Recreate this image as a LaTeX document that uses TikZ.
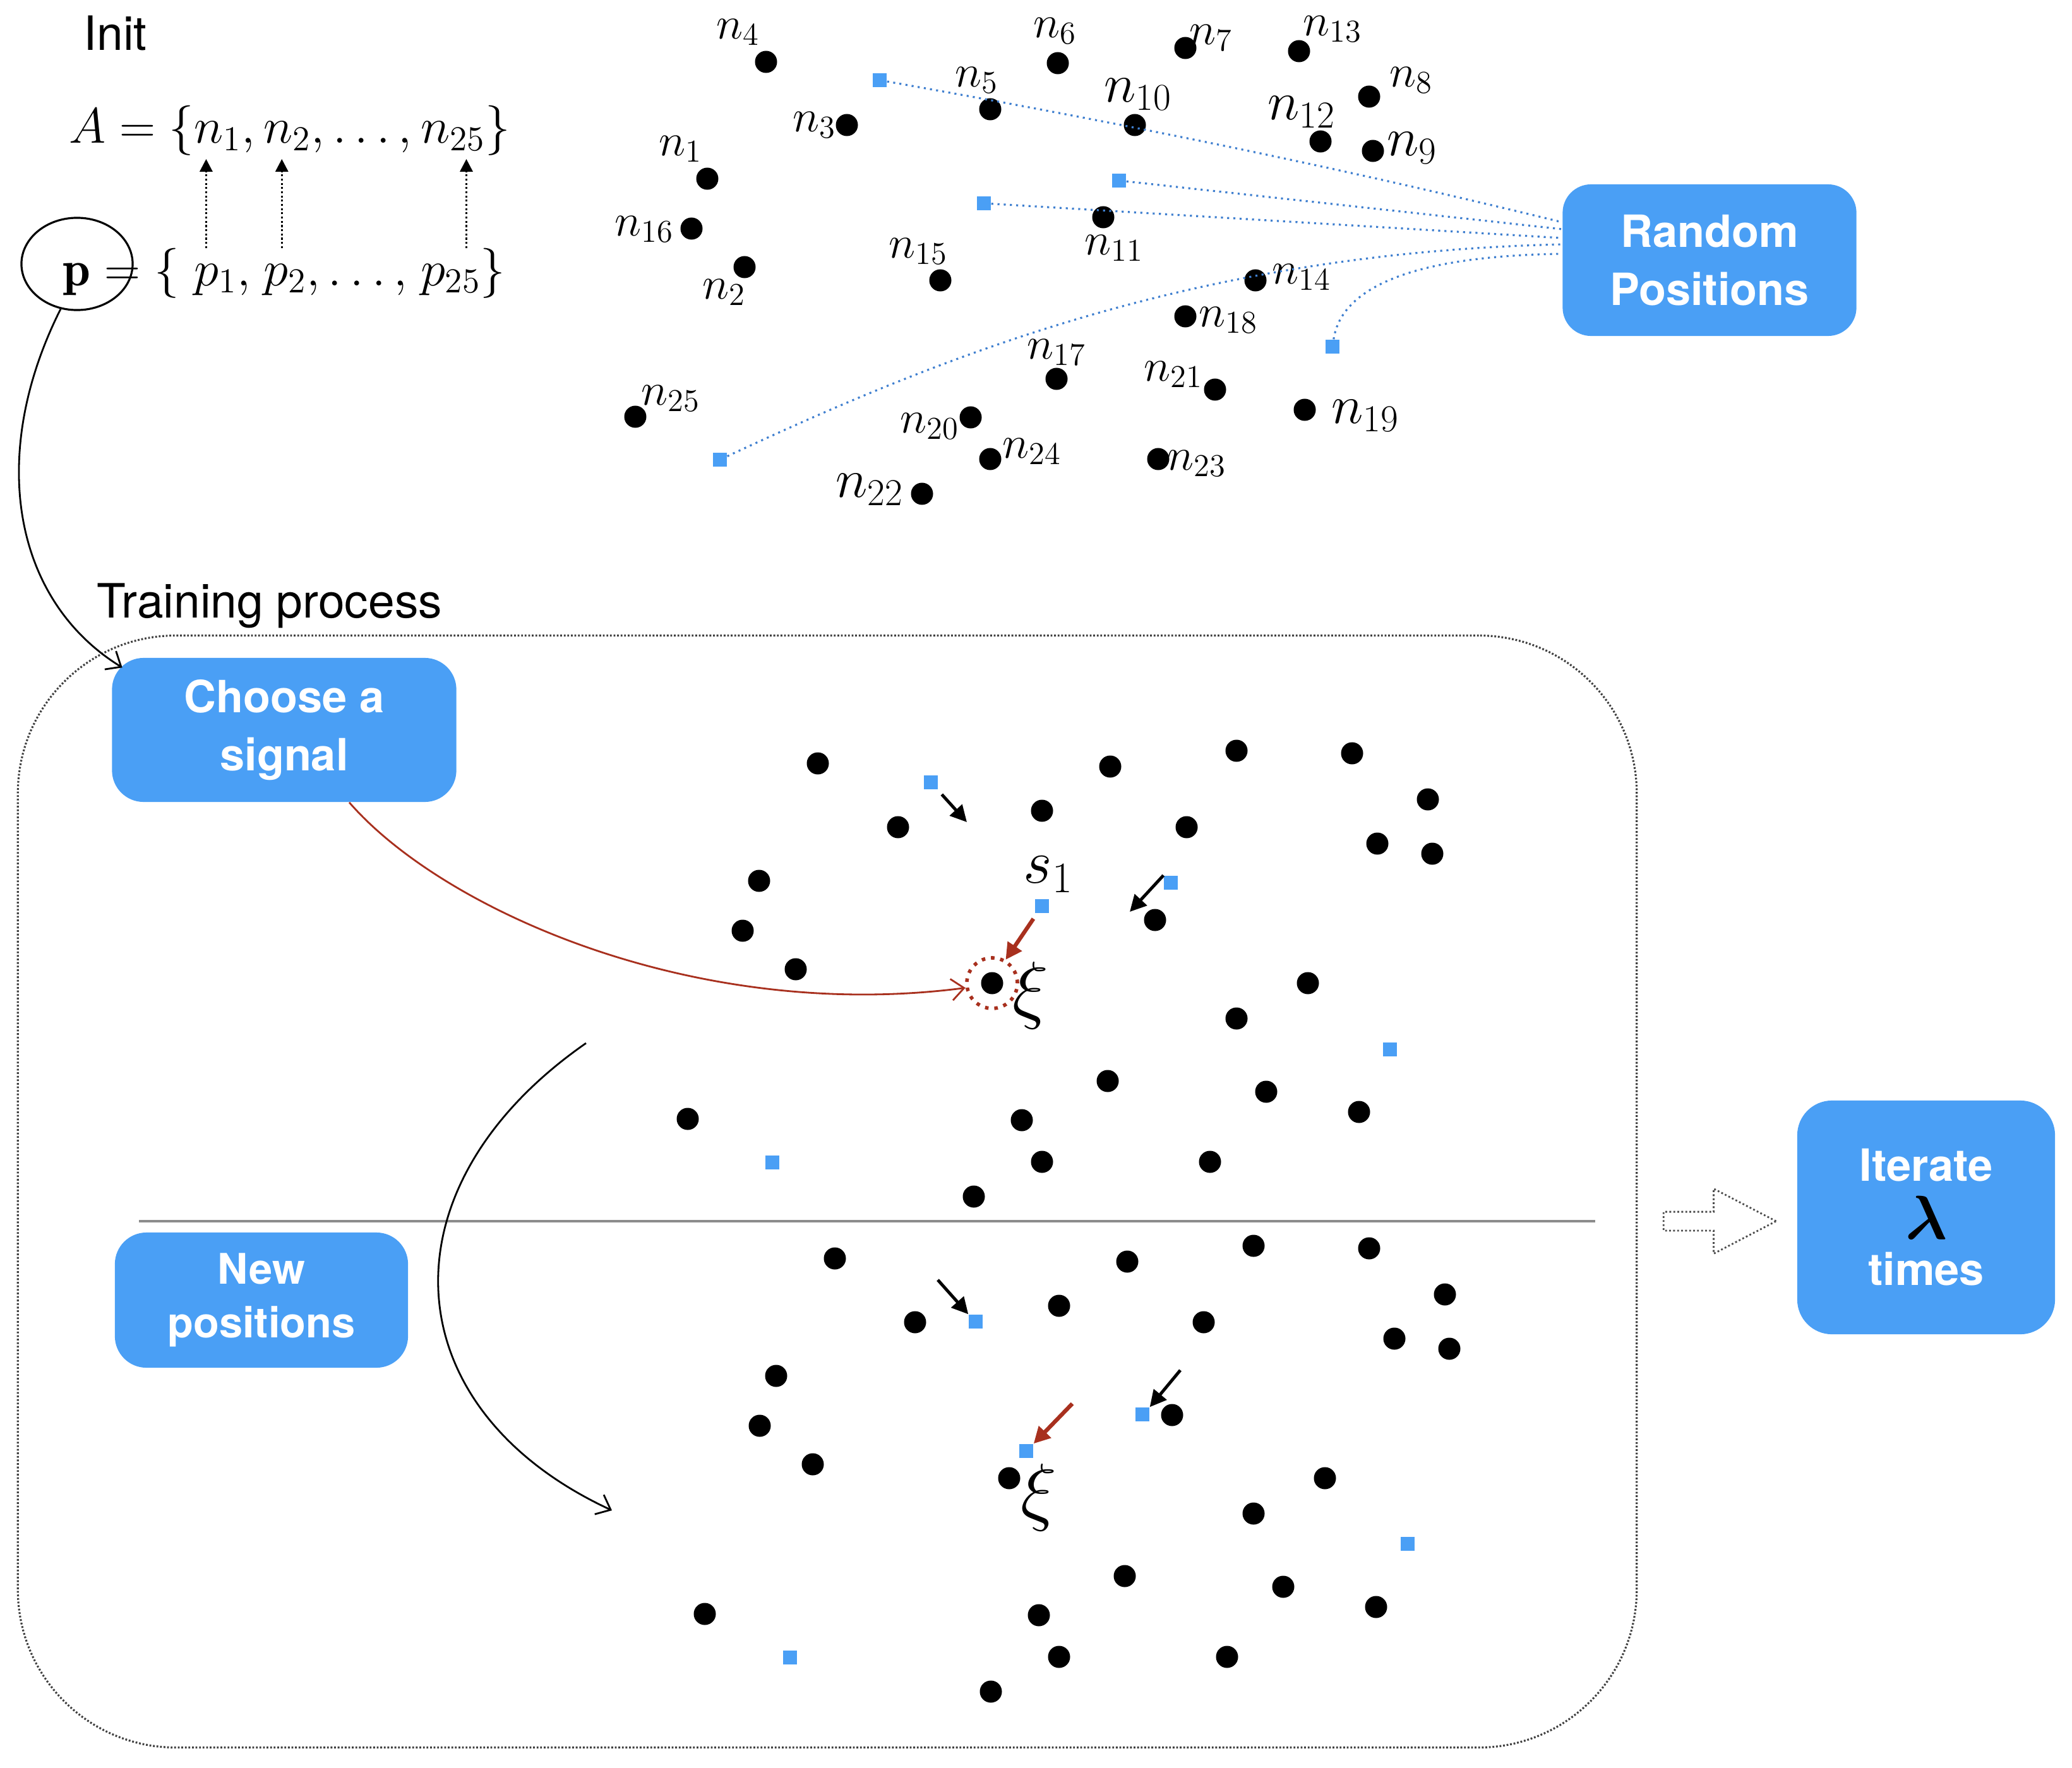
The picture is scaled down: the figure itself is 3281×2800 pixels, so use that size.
\RequirePackage{fix-cm}
\documentclass[tikz,border=0pt]{standalone}
\usepackage{fontspec}
\setsansfont{TeX Gyre Heros}
\usepackage{bm}
\usetikzlibrary{arrows.meta,positioning,shapes.geometric,shapes.arrows}
\definecolor{kohblue}{HTML}{4A9FF5}
\definecolor{linkblue}{HTML}{3F7FCF}
\definecolor{winred}{HTML}{A8301E}
\definecolor{rulegray}{HTML}{8C8C8C}

\begin{document}
\begin{tikzpicture}[x=0.01cm,y=-0.01cm,
  sigbox/.style={fill=kohblue,text=white,rounded corners=5mm,align=center,inner sep=0pt,
    font=\sffamily\bfseries\fontsize{20}{26}\selectfont},
  headtxt/.style={anchor=base west,inner sep=0pt,font=\sffamily\fontsize{21.3}{25}\selectfont},
  mathpc/.style={anchor=base west,inner sep=0pt,outer sep=0pt,font=\fontsize{22.5}{27}\selectfont},
  neuron/.style={circle,fill=black,inner sep=0pt,minimum size=3.5mm},
  proto/.style={rectangle,fill=kohblue,inner sep=0pt,minimum size=2.2mm},
  nlab/.style={inner sep=0pt,font=\fontsize{20.5}{24}\selectfont},
  nlabbig/.style={inner sep=0pt,font=\fontsize{24.5}{28}\selectfont},
  maparr/.style={densely dotted,line width=0.9pt,-{Triangle[length=2mm,width=2mm]},
    shorten <=2.5mm,shorten >=1.3mm},
  randlink/.style={linkblue,line width=0.9pt,dash pattern=on 0.9pt off 1.9pt},
  thinarr/.style={line width=0.8pt,-{Straight Barb[length=2mm,width=3.4mm]}},
  mvarr/.style={line width=1.4pt,-{Triangle[length=2.6mm,width=2.6mm]}},
  winarr/.style={mvarr,winred,line width=1.8pt},
  blockarr/.style={single arrow,draw=black!70,densely dotted,line width=0.8pt,
    minimum height=1.78cm,minimum width=1cm,inner sep=0.135cm,
    single arrow head extend=0.365cm,single arrow tip angle=55}]
  \useasboundingbox (0,0) rectangle (3281,2800);

  % init part
  \node[headtxt] (init) at (132,80) {Init};
  \node[mathpc] (setA) at (109,227) {$A=\{$};
  \node[mathpc] (an1) at (setA.base east) {$n_1$};
  \node[mathpc] (ac1) at (an1.base east) {$,\,$};
  \node[mathpc] (an2) at (ac1.base east) {$n_2$};
  \node[mathpc] (ac2) at (an2.base east) {$,\ldots,\,$};
  \node[mathpc] (an25) at (ac2.base east) {$n_{25}$};
  \node[mathpc] (aend) at (an25.base east) {$\}$};
  \node[mathpc] (setp) at (100,452) {$\mathbf{p}=\{$};
  \node[mathpc] (pp1) at (an1.base west |- setp.base west) {$p_1$};
  \node[mathpc] (pc1) at (pp1.base east) {$,\,$};
  \node[mathpc] (pp2) at (an2.base west |- setp.base west) {$p_2$};
  \node[mathpc] (pc2) at (pp2.base east) {$,\ldots,\,$};
  \node[mathpc] (pp25) at (an25.base west |- setp.base west) {$p_{25}$};
  \node[mathpc] (pend) at (pp25.base east) {$\}$};
  \node[draw,ellipse,line width=0.9pt,minimum width=1.76cm,minimum height=1.46cm,inner sep=0pt]
    (pcirc) at (122,418) {};
  \foreach \k/\dx in {1/-1.5mm,2/-0.5mm,25/2.5mm}
    \draw[maparr] ([xshift=\dx]pp\k.north) -- ([xshift=\dx]pp\k.north |- an\k.south);

  \foreach \i/\x/\y/\lx/\ly/\st in {1/1120/283/1078/236/nlab, 2/1179/423/1147/463/nlab,
      3/1341/198/1290/198/nlab, 4/1213/98/1169/51/nlab, 5/1568/173/1547/127/nlab,
      6/1675/100/1671/49/nlab, 7/1877/76/1918/60/nlab, 8/2168/153/2235/127/nlab,
      9/2174/239/2236/234/nlabbig, 10/1797/198/1802/149/nlabbig, 11/1747/344/1764/393/nlab,
      12/2091/224/2061/177/nlabbig, 13/2057/81/2110/46/nlab, 14/1988/444/2061/439/nlab,
      15/1489/444/1454/398/nlab, 16/1095/362/1020/363/nlab, 17/1673/600/1673/558/nlab,
      18/1877/501/1945/507/nlab, 19/2066/649/2162/658/nlabbig, 20/1537/661/1472/675/nlab,
      21/1924/617/1858/593/nlab, 22/1460/782/1377/775/nlabbig, 23/1834/727/1895/734/nlab,
      24/1568/727/1634/715/nlab, 25/1006/660/1062/631/nlab}{
    \node[neuron] (n\i) at (\x,\y) {};
    \node[\st] (l\i) at (\lx,\ly) {$n_{\i}$};
  }
  \foreach \x/\y [count=\i] in {1393/127,1772/286,1558/322,1140/728,2110/549}
    \node[proto] (rp\i) at (\x,\y) {};

  \node[sigbox,minimum width=4.65cm,minimum height=2.4cm,rounded corners=4.5mm]
    (randpos) at (2707,412) {Random\\Positions};
  \draw[randlink] (rp1) .. controls (1750,190) and (2100,260) .. ([yshift=6mm]randpos.west);
  \draw[randlink] (rp2) -- ([yshift=4.9mm]randpos.west);
  \draw[randlink] (rp3) -- ([yshift=3.5mm]randpos.west);
  \draw[randlink] (rp4) .. controls (1500,560) and (1900,400) .. ([yshift=2.5mm]randpos.west);
  \draw[randlink] (rp5) .. controls (2125,450) and (2250,405) .. ([yshift=1mm]randpos.west);

  % training part
  \node[headtxt] (trainlbl) at (153,978) {Training process};
  \node[draw=black!75,dash pattern=on 0.8pt off 0.8pt,line width=0.9pt,rounded corners=2.5cm,
    minimum width=25.62cm,minimum height=17.6cm,inner sep=0pt] (trainbox) at (1310,1887) {};
  \draw[rulegray,line width=1.3pt] (220,1934) -- (2526,1934);

  \node[sigbox,minimum width=5.45cm,minimum height=2.28cm] (choose) at (450,1156) {Choose a\\signal};
  \node[sigbox,minimum width=4.64cm,minimum height=2.14cm,
    font=\sffamily\bfseries\fontsize{19}{24}\selectfont] (newpos) at (414,2059) {New\\positions};

  \foreach \x/\y [count=\i] in {1295/1209,1758/1214,1958/1189,2141/1193,1422/1310,1650/1284,
      1879/1310,2261/1266,2181/1336,2268/1352,1202/1395,1176/1474,1260/1535,1829/1457,
      1571/1557,2071/1557,1958/1613,1754/1712,2005/1729,2152/1761,1089/1772,1618/1774,
      1650/1840,1916/1840,1542/1895}{
    \node[neuron] (a\i) at (\x,\y) {};
    \node[neuron] (b\i) at (\x+27,\y+784) {};
  }
  \foreach \x/\y [count=\i] in {1474/1239,1854/1398,1650/1435,2201/1662,1223/1841}
    \node[proto] (sa\i) at (\x,\y) {};
  \foreach \x/\y [count=\i] in {1545/2093,1809/2240,1625/2298,2229/2445,1251/2625}
    \node[proto] (sb\i) at (\x,\y) {};

  \node[inner sep=0pt,font=\fontsize{28}{30}\selectfont] (s1lbl) at (1660,1385) {$s_1$};
  \node[inner sep=0pt,font=\fontsize{34}{36}\selectfont] (xiup) at (1632,1577) {$\xi$};
  \node[inner sep=0pt,font=\fontsize{34}{36}\selectfont] (xilow) at (1645,2372) {$\xi$};
  \node[circle,draw=winred,line width=1.6pt,dash pattern=on 1.6pt off 2.6pt,minimum size=0.8cm,
    inner sep=0pt] (xicirc) at (a15) {};

  \draw[winred,thinarr] ([xshift=1.03cm]choose.south) .. controls (700,1440) and (1100,1620) .. (xicirc.190);
  \draw[thinarr] (pcirc.-110) .. controls (-20,720) and (20,950) ..
    ([shift={(0.17cm,-0.16cm)}]choose.north west);

  \coordinate (ma1) at (1531,1302);
  \coordinate (ma2) at (1789,1444);
  \draw[mvarr,shorten <=1mm] (sa1) -- (ma1);
  \draw[mvarr] (sa2.north west) -- (ma2);
  \draw[winarr,shorten <=1mm] (sa3) -- (xicirc.60);

  \coordinate (mb1) at (1485,2027);
  \coordinate (mb2) at (1869,2170);
  \coordinate (mb3) at (1698,2223);
  \draw[mvarr] (mb1) -- (sb1.north west);
  \draw[mvarr] (mb2) -- (sb2.north east);
  \draw[winarr] (mb3) -- (sb3.north east);

  \coordinate (swA) at (928,1652);
  \coordinate (swB) at (969,2392);
  \draw[thinarr] (swA) .. controls (600,1880) and (620,2230) .. (swB);

  \node[blockarr] (iterarr) at (2709,1934) {};
  \node[sigbox,rounded corners=5.5mm,minimum width=4.08cm,minimum height=3.7cm] (iterate)
    at (3050,1928) {Iterate\\[0pt]{\color{black}\fontsize{28}{28}\selectfont$\bm{\lambda}$}\\[-5pt]times};
\end{tikzpicture}
\end{document}
